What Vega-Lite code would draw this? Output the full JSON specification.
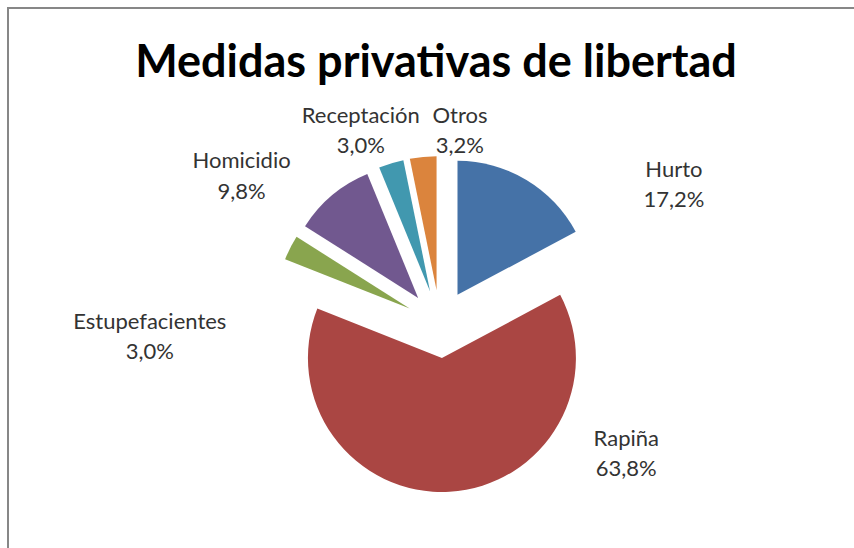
{
  "$schema": "https://vega.github.io/schema/vega-lite/v6.json",
  "width": 846,
  "height": 540,
  "autosize": "none",
  "padding": {"left": 8, "top": 8, "right": 0, "bottom": 0},
  "background": "white",
  "view": {"stroke": "#878787", "strokeWidth": 2, "strokeDash": [846, 1386, 540]},
  "title": {
    "text": "Medidas privativas de libertad",
    "font": "Lato",
    "fontSize": 45,
    "fontWeight": "bold",
    "color": "#000000",
    "anchor": "middle",
    "baseline": "alphabetic",
    "offset": 0,
    "dy": 114,
    "dx": 5
  },
  "config": {
    "locale": {"number": {"decimal": ",", "thousands": ".", "grouping": [3], "currency": ["", " €"]}}
  },
  "data": {
    "values": [
      {"category": "Hurto", "value": 0.172},
      {"category": "Rapiña", "value": 0.638},
      {"category": "Estupefacientes", "value": 0.030},
      {"category": "Homicidio", "value": 0.098},
      {"category": "Receptación", "value": 0.030},
      {"category": "Otros", "value": 0.032}
    ]
  },
  "transform": [{"stack": "value", "groupby": [], "as": ["v0", "v1"]}],
  "layer": [
    {
      "mark": {
        "type": "arc",
        "outerRadius": 134,
        "xOffset": {"expr": "9 + 34*sin(PI*(datum.v0+datum.v1))"},
        "yOffset": {"expr": "46 - 34*cos(PI*(datum.v0+datum.v1))"}
      },
      "encoding": {
        "theta": {"field": "v0", "type": "quantitative", "scale": {"domain": [0, 1]}},
        "theta2": {"field": "v1"},
        "color": {
          "field": "category",
          "type": "nominal",
          "scale": {
            "domain": ["Hurto", "Rapiña", "Estupefacientes", "Homicidio", "Receptación", "Otros"],
            "range": ["#4572A7", "#AA4643", "#89A54E", "#71588F", "#4198AF", "#DB843D"]
          },
          "legend": null
        }
      }
    },
    {
      "mark": {
        "type": "text",
        "font": "Lato",
        "fontSize": 22,
        "color": "#333333",
        "align": "center",
        "baseline": "middle",
        "radius": 200,
        "theta": {"expr": "PI*(datum.v0+datum.v1)"},
        "dx": {"expr": "{'Hurto':140,'Rapiña':184,'Estupefacientes':-103,'Homicidio':-61,'Receptación':-12,'Otros':49}[datum.category]"},
        "dy": {"expr": "{'Hurto':64,'Rapiña':-39,'Estupefacientes':135,'Homicidio':36,'Receptación':29,'Otros':37}[datum.category]"}
      },
      "encoding": {"text": {"field": "category", "type": "nominal"}}
    },
    {
      "mark": {
        "type": "text",
        "font": "Lato",
        "fontSize": 22,
        "color": "#333333",
        "align": "center",
        "baseline": "middle",
        "radius": 200,
        "theta": {"expr": "PI*(datum.v0+datum.v1)"},
        "dx": {"expr": "{'Hurto':140,'Rapiña':184,'Estupefacientes':-103,'Homicidio':-61,'Receptación':-12,'Otros':49}[datum.category]"},
        "dy": {"expr": "{'Hurto':94,'Rapiña':-9,'Estupefacientes':165,'Homicidio':67,'Receptación':59,'Otros':67}[datum.category]"}
      },
      "encoding": {"text": {"field": "value", "type": "quantitative", "format": ".1%"}}
    }
  ]
}
